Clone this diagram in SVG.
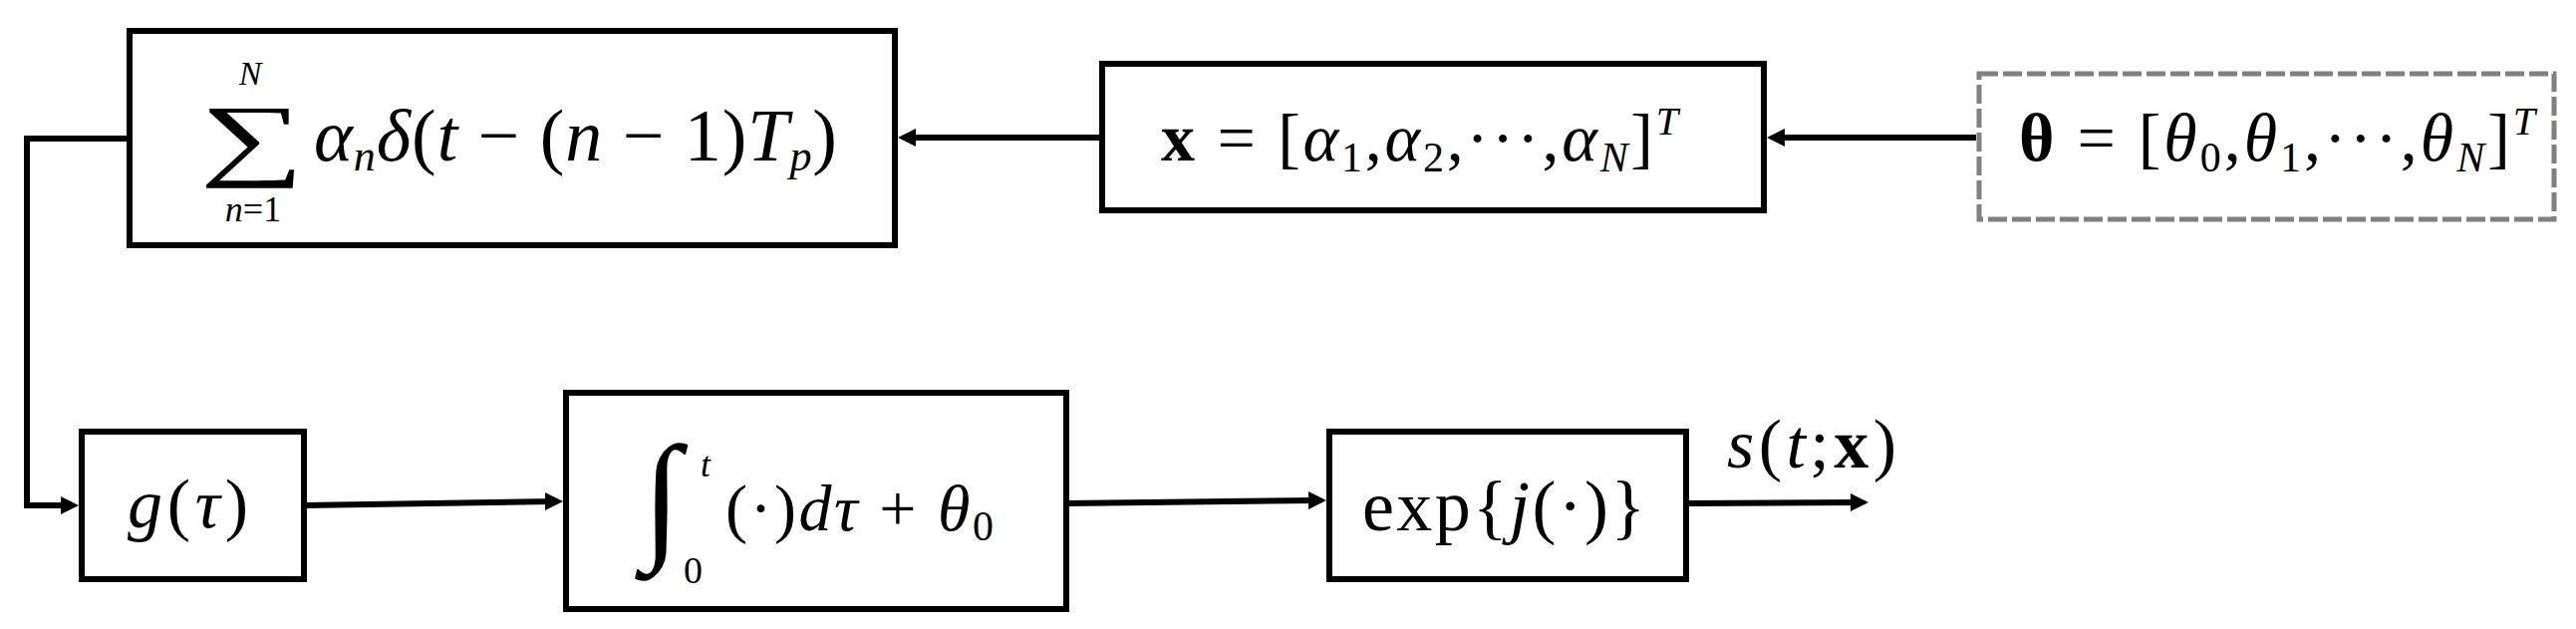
<svg xmlns="http://www.w3.org/2000/svg" width="2585" height="631" viewBox="0 0 2585 631">
<style>
.box{fill:#fff;stroke:#000;stroke-width:6}
.dash{fill:#fff;stroke:#808080;stroke-width:5;stroke-dasharray:19 5}
.conn{fill:none;stroke:#000;stroke-width:6}
.ah{fill:#000}
text{font-family:"Liberation Serif","Times New Roman",serif;fill:#000}
.i{font-style:italic}
.b{font-weight:bold}
</style>
<defs>
<path id="ah" class="ah" d="M-18,-9 L0,0 L-18,9 z"/>
</defs>
<g id="connectors">
<line class="conn" x1="1983" y1="138" x2="1783" y2="138"/>
<use href="#ah" transform="translate(1773,138) rotate(180)"/>
<line class="conn" x1="1103" y1="138" x2="911" y2="138"/>
<use href="#ah" transform="translate(901,138) rotate(180)"/>
<polyline class="conn" points="127,139 27,139 27,507 69,507"/>
<use href="#ah" transform="translate(79,507)"/>
<line class="conn" x1="305" y1="507" x2="555" y2="503"/>
<use href="#ah" transform="translate(565,503)"/>
<line class="conn" x1="1070" y1="505" x2="1321" y2="502"/>
<use href="#ah" transform="translate(1331,502)"/>
<line class="conn" x1="1692" y1="505" x2="1865" y2="504"/>
<use href="#ah" transform="translate(1875,504)"/>
</g>
<g id="sum">
<rect class="box" x="130" y="31" width="768" height="215"/>
<text transform="translate(253,169) scale(1.6,1)" font-size="92" text-anchor="middle">∑</text>
<text x="251" y="85" font-size="34" class="i" text-anchor="middle">N</text>
<text x="254" y="222" font-size="36" text-anchor="middle"><tspan class="i">n</tspan>=1</text>
<text x="315" y="161" font-size="74" textLength="525"><tspan class="i">α</tspan><tspan class="i" font-size="44" dy="10">n</tspan><tspan class="i" dy="-10">δ</tspan>(<tspan class="i">t</tspan> − (<tspan class="i">n</tspan> − 1)<tspan class="i">T</tspan><tspan class="i" font-size="44" dy="10">p</tspan><tspan dy="-10">)</tspan></text>
</g>
<g id="xvec">
<rect class="box" x="1106" y="64" width="664" height="147"/>
<text x="1165" y="161" font-size="68" textLength="519"><tspan class="b">x</tspan> = [<tspan class="i">α</tspan><tspan font-size="42" dy="11">1</tspan><tspan dy="-11">,</tspan><tspan class="i">α</tspan><tspan font-size="42" dy="11">2</tspan><tspan dy="-11">,···,</tspan><tspan class="i">α</tspan><tspan class="i" font-size="42" dy="11">N</tspan><tspan dy="-11">]</tspan><tspan class="i" font-size="40" dy="-26">T</tspan></text>
</g>
<g id="theta">
<rect class="dash" x="1986" y="74" width="577" height="146"/>
<text x="2026" y="161" font-size="68" textLength="518"><tspan class="b">θ</tspan> = [<tspan class="i">θ</tspan><tspan font-size="42" dy="11">0</tspan><tspan dy="-11">,</tspan><tspan class="i">θ</tspan><tspan font-size="42" dy="11">1</tspan><tspan dy="-11">,···,</tspan><tspan class="i">θ</tspan><tspan class="i" font-size="42" dy="11">N</tspan><tspan dy="-11">]</tspan><tspan class="i" font-size="40" dy="-26">T</tspan></text>
</g>
<g id="g">
<rect class="box" x="82" y="433" width="223" height="148"/>
<text x="128" y="529" font-size="70" textLength="121"><tspan class="i">g</tspan>(<tspan class="i">τ</tspan>)</text>
</g>
<g id="integral">
<rect class="box" x="568" y="394" width="502" height="217"/>
<text x="664" y="545" font-size="141" text-anchor="middle">∫</text>
<text x="703" y="478" font-size="36" class="i">t</text>
<text x="686" y="585" font-size="38">0</text>
<text x="728" y="532" font-size="66" textLength="269">(·)<tspan class="i">dτ</tspan> + <tspan class="i">θ</tspan><tspan font-size="42" dy="10">0</tspan></text>
</g>
<g id="exp">
<rect class="box" x="1334" y="433" width="358" height="148"/>
<text x="1367" y="532" font-size="72" textLength="284">exp{<tspan class="i">j</tspan>(·)}</text>
</g>
<g id="out">
<text x="1733" y="469" font-size="70" textLength="170"><tspan class="i">s</tspan>(<tspan class="i">t</tspan>;<tspan class="b">x</tspan>)</text>
</g>
</svg>
